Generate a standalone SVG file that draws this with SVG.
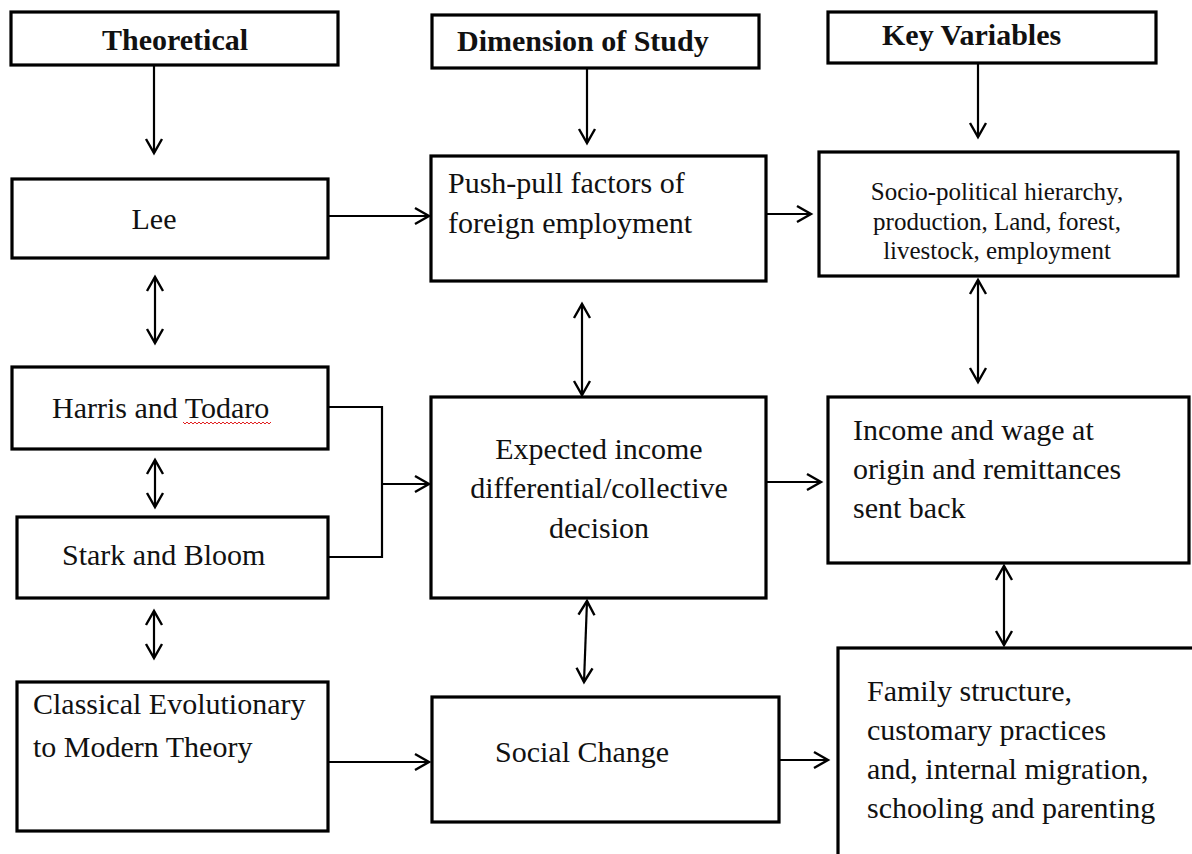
<svg xmlns="http://www.w3.org/2000/svg" width="1192" height="854" viewBox="0 0 1192 854">
  <style>
    .box { fill: #fff; stroke: #000; stroke-width: 3.2; }
    .t { font-family: "Liberation Serif", "Times New Roman", serif; font-size: 30px; fill: #111; }
    .h { font-family: "Liberation Serif", "Times New Roman", serif; font-size: 30px; font-weight: bold; fill: #111; }
    .s { font-family: "Liberation Serif", "Times New Roman", serif; font-size: 25px; fill: #111; }
    .c { fill: none; stroke: #000; stroke-width: 2.2; }
  </style>
  <defs>
    <marker id="arr" viewBox="-16 -10 18 20" refX="0" refY="0" markerWidth="18" markerHeight="20" markerUnits="userSpaceOnUse" orient="auto-start-reverse" overflow="visible">
      <path d="M-14,-8 L0,0 L-14,8" fill="none" stroke="#000" stroke-width="2.4" stroke-linejoin="miter"/>
    </marker>
  </defs>
  <rect width="1192" height="854" fill="#fff"/>

  <g id="connectors">
    <line class="c" x1="154" y1="65" x2="154" y2="153" marker-end="url(#arr)"/>
    <line class="c" x1="587" y1="68" x2="587" y2="143" marker-end="url(#arr)"/>
    <line class="c" x1="978" y1="63" x2="978" y2="137" marker-end="url(#arr)"/>
    <line class="c" x1="328" y1="216" x2="429" y2="216" marker-end="url(#arr)"/>
    <line class="c" x1="766" y1="214" x2="811" y2="214" marker-end="url(#arr)"/>
    <line class="c" x1="155" y1="277" x2="155" y2="343" marker-start="url(#arr)" marker-end="url(#arr)"/>
    <line class="c" x1="582" y1="304" x2="582" y2="395" marker-start="url(#arr)" marker-end="url(#arr)"/>
    <line class="c" x1="978" y1="280" x2="978" y2="382" marker-start="url(#arr)" marker-end="url(#arr)"/>
    <path class="c" d="M328,407 H382 V557 H328"/>
    <line class="c" x1="382" y1="484" x2="429" y2="484" marker-end="url(#arr)"/>
    <line class="c" x1="155" y1="460" x2="155" y2="507" marker-start="url(#arr)" marker-end="url(#arr)"/>
    <line class="c" x1="766" y1="482" x2="821" y2="482" marker-end="url(#arr)"/>
    <line class="c" x1="587" y1="601" x2="584" y2="682" marker-start="url(#arr)" marker-end="url(#arr)"/>
    <line class="c" x1="1004" y1="566" x2="1004" y2="645" marker-start="url(#arr)" marker-end="url(#arr)"/>
    <line class="c" x1="154" y1="611" x2="154" y2="658" marker-start="url(#arr)" marker-end="url(#arr)"/>
    <line class="c" x1="328" y1="762" x2="429" y2="762" marker-end="url(#arr)"/>
    <line class="c" x1="779" y1="760" x2="828" y2="760" marker-end="url(#arr)"/>
  </g>

  <g id="theoretical">
    <rect class="box" x="11" y="12" width="327" height="53"/>
    <text class="h" x="102" y="50">Theoretical</text>
  </g>
  <g id="dimension">
    <rect class="box" x="432" y="15" width="327" height="53"/>
    <text class="h" x="457" y="51">Dimension of Study</text>
  </g>
  <g id="keyvariables">
    <rect class="box" x="828" y="12" width="328" height="51"/>
    <text class="h" x="882" y="45">Key Variables</text>
  </g>

  <g id="lee">
    <rect class="box" x="12" y="179" width="316" height="79"/>
    <text class="t" x="154" y="229" text-anchor="middle">Lee</text>
  </g>
  <g id="pushpull">
    <rect class="box" x="431" y="156" width="335" height="125"/>
    <text class="t" x="448" y="193">Push-pull factors of</text>
    <text class="t" x="448" y="233">foreign employment</text>
  </g>
  <g id="sociopolitical">
    <rect class="box" x="819" y="152" width="359" height="124"/>
    <text class="s" x="997" y="200" text-anchor="middle">Socio-political hierarchy,</text>
    <text class="s" x="997" y="230" text-anchor="middle">production, Land, forest,</text>
    <text class="s" x="997" y="259" text-anchor="middle">livestock, employment</text>
  </g>

  <g id="harris">
    <rect class="box" x="12" y="367" width="316" height="82"/>
    <text class="t" x="52" y="418">Harris and Todaro</text>
    <path d="M183,422 l2,2 l2,-2 l2,2 l2,-2 l2,2 l2,-2 l2,2 l2,-2 l2,2 l2,-2 l2,2 l2,-2 l2,2 l2,-2 l2,2 l2,-2 l2,2 l2,-2 l2,2 l2,-2 l2,2 l2,-2 l2,2 l2,-2 l2,2 l2,-2 l2,2 l2,-2 l2,2 l2,-2 l2,2 l2,-2 l2,2 l2,-2 l2,2 l2,-2 l2,2 l2,-2 l2,2 l2,-2 l2,2 l2,-2 l2,2 l2,-2" fill="none" stroke="#e02020" stroke-width="1"/>
  </g>
  <g id="stark">
    <rect class="box" x="17" y="517" width="311" height="81"/>
    <text class="t" x="62" y="565">Stark and Bloom</text>
  </g>
  <g id="expected">
    <rect class="box" x="431" y="397" width="335" height="201"/>
    <text class="t" x="599" y="459" text-anchor="middle">Expected income</text>
    <text class="t" x="599" y="498" text-anchor="middle">differential/collective</text>
    <text class="t" x="599" y="538" text-anchor="middle">decision</text>
  </g>
  <g id="income">
    <rect class="box" x="828" y="397" width="361" height="166"/>
    <text class="t" x="853" y="440">Income and wage at</text>
    <text class="t" x="853" y="479">origin and remittances</text>
    <text class="t" x="853" y="518">sent back</text>
  </g>

  <g id="classical">
    <rect class="box" x="17" y="682" width="311" height="149"/>
    <text class="t" x="33" y="714">Classical Evolutionary</text>
    <text class="t" x="33" y="757">to Modern Theory</text>
  </g>
  <g id="socialchange">
    <rect class="box" x="432" y="697" width="347" height="125"/>
    <text class="t" x="495" y="762">Social Change</text>
  </g>
  <g id="family">
    <rect class="box" x="838" y="648" width="400" height="300"/>
    <text class="t" x="867" y="701">Family structure,</text>
    <text class="t" x="867" y="740">customary practices</text>
    <text class="t" x="867" y="779">and, internal migration,</text>
    <text class="t" x="867" y="818">schooling and parenting</text>
  </g>
</svg>
